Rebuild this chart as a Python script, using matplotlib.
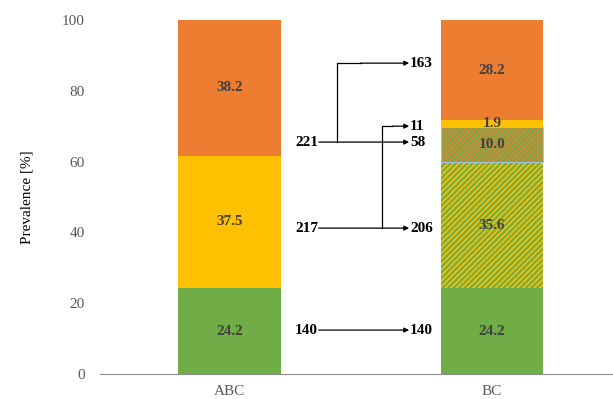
import matplotlib.pyplot as plt

plt.rcParams['font.family'] = ['Liberation Serif', 'DejaVu Serif']
plt.rcParams['hatch.linewidth'] = 1.2

# stacked segments (bottom -> top)
abc_vals = [24.2, 37.5, 38.2]
abc_colors = ['#70AD47', '#FFC000', '#ED7D31']

bc_vals = [24.2, 35.6, 10.0, 1.9, 28.2]
bc_faces = ['#70AD47', '#70AD47', '#70AD47', '#FFC000', '#ED7D31']
bc_hatch_colors = [None, '#FFC000', '#ED7D31', None, None]

categories = ['ABC', 'BC']

# flow annotations: (left count, y), (right count, y)
left_counts = ['140', '217', '221']
left_y = [12.4, 41.2, 65.5]
right_counts = ['140', '206', '58', '11', '163']
right_y = [12.4, 41.2, 65.5, 70.0, 87.8]

fig = plt.figure(figsize=(6.13, 3.99), dpi=100)
ax = fig.add_axes([0.163, 0.0627, 0.837, 0.8873])

fs = 11
w = 0.39
bottom = 0
for v, c in zip(abc_vals, abc_colors):
    ax.bar(0, v, w, bottom=bottom, color=c, linewidth=0)
    ax.text(0, bottom + v / 2, f'{v:.1f}', ha='center', va='center',
            fontsize=fs, fontweight='bold', color='#404040')
    bottom += v

bottom = 0
for v, fc, hc in zip(bc_vals, bc_faces, bc_hatch_colors):
    if hc is None:
        ax.bar(1, v, w, bottom=bottom, color=fc, linewidth=0)
    else:
        ax.bar(1, v, w, bottom=bottom, facecolor=fc, edgecolor=hc,
               hatch='//////', linewidth=0)
    if v == 10.0:
        ax.bar(1, v, w, bottom=bottom, fill=False, edgecolor='#9DC3E6', linewidth=0.8)
    ax.text(1, bottom + v / 2, f'{v:.1f}', ha='center', va='center',
            fontsize=fs, fontweight='bold', color='#404040')
    bottom += v

# left / right numbers
for t, y in zip(left_counts, left_y):
    ax.text(0.337, y, t, ha='right', va='center', fontsize=fs, fontweight='bold')
for t, y in zip(right_counts, right_y):
    ax.text(0.688, y, t, ha='left', va='center', fontsize=fs, fontweight='bold')

aprops = dict(arrowstyle='-|>', color='black', lw=0.9, mutation_scale=7,
              shrinkA=0, shrinkB=0)
x0, x1 = 0.34, 0.684
# straight arrows
for y in left_y:
    ax.annotate('', xy=(x1, y), xytext=(x0, y), arrowprops=aprops)
# branches
ax.plot([0.41, 0.41, 0.5], [left_y[2], right_y[4], right_y[4]], color='black', lw=0.9)
ax.annotate('', xy=(x1, right_y[4]), xytext=(0.5, right_y[4]), arrowprops=aprops)
ax.plot([0.581, 0.581, 0.62], [left_y[1], right_y[3], right_y[3]], color='black', lw=0.9)
ax.annotate('', xy=(x1, right_y[3]), xytext=(0.62, right_y[3]), arrowprops=aprops)

ax.set_xlim(-0.493, 1.46)
ax.set_ylim(0, 100)
ax.set_xticks([0, 1])
ax.set_xticklabels(categories)
ax.set_yticks(range(0, 101, 20))
ax.tick_params(length=0, labelsize=fs, labelcolor='#595959', pad=8)
ax.tick_params(axis='y', pad=11)
for s in ['left', 'right', 'top']:
    ax.spines[s].set_visible(False)
ax.spines['bottom'].set_color('#8C8C8C')
ax.set_ylabel('Prevalence [%]', fontsize=fs, labelpad=20)

plt.savefig('out.png')
